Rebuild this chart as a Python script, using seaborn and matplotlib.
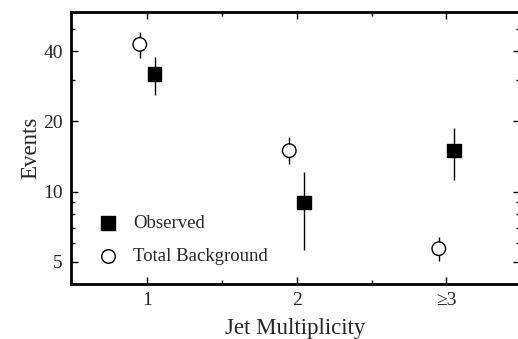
import numpy as np
import pandas as pd
import matplotlib
matplotlib.use("Agg")
import matplotlib.pyplot as plt
import seaborn as sns

# ---- data ----
multiplicity = [1, 2, 3]
tick_labels = ["1", "2", "\u22653"]

observed = [32.0, 9.0, 15.0]
observed_err_lo = [6.0, 3.4, 3.8]
observed_err_hi = [5.7, 3.2, 3.8]

background = [42.8, 15.0, 5.7]
background_err_lo = [5.5, 1.8, 0.65]
background_err_hi = [5.5, 2.1, 0.7]

offset = 0.05

df = pd.DataFrame({
    "x": [m + offset for m in multiplicity] + [m - offset for m in multiplicity],
    "events": observed + background,
    "lo": observed_err_lo + background_err_lo,
    "hi": observed_err_hi + background_err_hi,
    "kind": ["Observed"] * 3 + ["Total Background"] * 3,
})

sns.set_style("ticks")
plt.rcParams["font.family"] = ["Liberation Serif", "DejaVu Serif"]

fig = plt.figure(figsize=(5.18, 3.39), dpi=100)
ax = fig.add_axes([0.137, 0.162, 0.866, 0.803])

# error bars
for kind in ["Observed", "Total Background"]:
    sub = df[df["kind"] == kind]
    ax.errorbar(sub["x"], sub["events"], yerr=[sub["lo"], sub["hi"]],
                fmt="none", ecolor="black", elinewidth=1.0, capsize=0, zorder=2)

sns.scatterplot(
    data=df, x="x", y="events", hue="kind", style="kind",
    markers={"Observed": "s", "Total Background": "o"},
    palette={"Observed": "black", "Total Background": "white"},
    edgecolor="black", linewidth=1.0, s=95, ax=ax, zorder=3, legend=False,
)

ax.set_yscale("log")
ax.set_xlim(0.49, 3.49)
ax.set_ylim(4.02, 59)

ax.set_xticks(multiplicity)
ax.set_xticklabels(tick_labels)
ax.set_xticks([1.5, 2.5], minor=True)
ax.set_yticks([5, 10, 20, 40])
ax.set_yticklabels(["5", "10", "20", "40"])
ax.set_yticks([6, 7, 8, 9, 30, 50], minor=True)
ax.yaxis.set_minor_formatter(matplotlib.ticker.NullFormatter())

ax.tick_params(which="both", direction="in", top=True, right=True,
               labelsize=14, width=1.0, color="black")
ax.tick_params(which="major", length=5, pad=6)
ax.tick_params(which="minor", length=3)

for side in ["left", "bottom", "top", "right"]:
    ax.spines[side].set_linewidth(2)
    ax.spines[side].set_color("black")

ax.set_xlabel("Jet Multiplicity", fontsize=16.5, labelpad=6)
ax.set_ylabel("Events", fontsize=16.5, labelpad=1)

# legend (markers only)
ax.scatter([], [], marker="s", s=95, color="black", label="Observed")
ax.scatter([], [], marker="o", s=95, facecolor="white", edgecolor="black",
           linewidth=1.0, label="Total Background")
ax.legend(loc="lower left", bbox_to_anchor=(0.0, 0.0), frameon=False,
          fontsize=13.5, handletextpad=0.3, labelspacing=0.85,
          borderaxespad=0.6)

fig.savefig("out.png", dpi=100)
